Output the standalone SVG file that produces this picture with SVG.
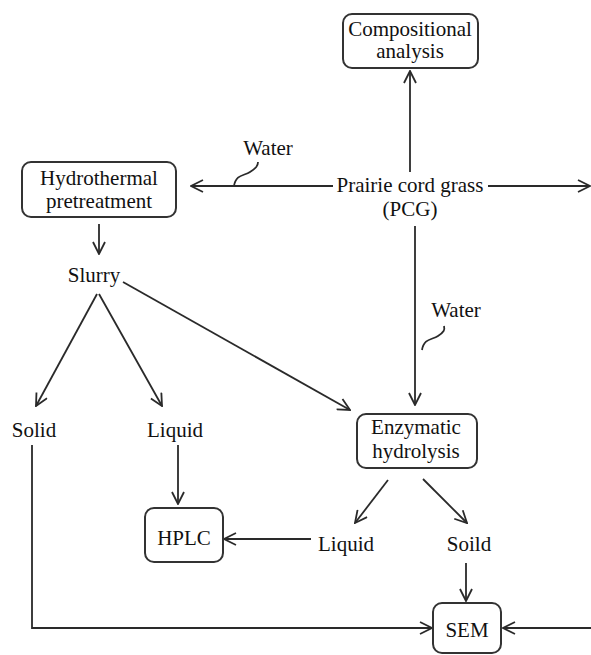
<svg xmlns="http://www.w3.org/2000/svg" width="591" height="655" viewBox="0 0 591 655">
<style>
text{font-family:"Liberation Serif","Times New Roman",serif;font-size:21px;fill:#111;text-anchor:middle}
.box{fill:#fff;stroke:#333;stroke-width:2}
.ln{fill:none;stroke:#2a2a2a;stroke-width:1.8}
</style>
<defs>
<marker id="ah" viewBox="0 0 14 14" refX="13" refY="7" markerWidth="14" markerHeight="14" markerUnits="userSpaceOnUse" orient="auto">
<path d="M1,1 L13,7 L1,13" fill="none" stroke="#2a2a2a" stroke-width="1.8"/>
</marker>
</defs>
<rect width="591" height="655" fill="#fff"/>
<g id="connectors">
<line class="ln" x1="410" y1="172" x2="410" y2="71" marker-end="url(#ah)"/>
<line class="ln" x1="333" y1="186" x2="191" y2="186" marker-end="url(#ah)"/>
<path class="ln" d="M234,186 C236,174 244,176 250,172 C256,168 258,166 258,162"/>
<line class="ln" x1="488" y1="186" x2="590" y2="186" marker-end="url(#ah)"/>
<line class="ln" x1="99" y1="224" x2="99" y2="254" marker-end="url(#ah)"/>
<line class="ln" x1="415" y1="226" x2="415" y2="405" marker-end="url(#ah)"/>
<path class="ln" d="M422,350 C424,338 432,340 438,336 C444,332 445,330 444,326"/>
<line class="ln" x1="97" y1="294" x2="36" y2="406" marker-end="url(#ah)"/>
<line class="ln" x1="99" y1="294" x2="162" y2="406" marker-end="url(#ah)"/>
<line class="ln" x1="123" y1="282" x2="350" y2="410" marker-end="url(#ah)"/>
<line class="ln" x1="178" y1="445" x2="178" y2="504" marker-end="url(#ah)"/>
<polyline class="ln" points="32,445 32,628 432,628" marker-end="url(#ah)"/>
<line class="ln" x1="388" y1="480" x2="355" y2="523" marker-end="url(#ah)"/>
<line class="ln" x1="423" y1="479" x2="467" y2="523" marker-end="url(#ah)"/>
<line class="ln" x1="311" y1="539" x2="224" y2="539" marker-end="url(#ah)"/>
<line class="ln" x1="466" y1="563" x2="466" y2="601" marker-end="url(#ah)"/>
<line class="ln" x1="591" y1="628" x2="503" y2="628" marker-end="url(#ah)"/>
</g>
<g id="compositional">
<rect class="box" x="343" y="14" width="135" height="54" rx="9"/>
<text x="410" y="36">Compositional</text>
<text x="410" y="58">analysis</text>
</g>
<g id="hydrothermal">
<rect class="box" x="22" y="162" width="154" height="55" rx="9"/>
<text x="99" y="185">Hydrothermal</text>
<text x="99" y="208">pretreatment</text>
</g>
<g id="water1"><text x="268" y="155">Water</text></g>
<g id="pcg">
<text x="410" y="192">Prairie cord grass</text>
<text x="410" y="216">(PCG)</text>
</g>
<g id="slurry"><text x="94" y="282">Slurry</text></g>
<g id="water2"><text x="456" y="317">Water</text></g>
<g id="solid"><text x="34" y="437">Solid</text></g>
<g id="liquid1"><text x="175" y="437">Liquid</text></g>
<g id="enzymatic">
<rect class="box" x="357" y="414" width="120" height="54" rx="9"/>
<text x="416" y="434">Enzymatic</text>
<text x="416" y="458">hydrolysis</text>
</g>
<g id="hplc">
<rect class="box" x="145" y="508" width="78" height="54" rx="9"/>
<text x="184" y="545">HPLC</text>
</g>
<g id="liquid2"><text x="346" y="551">Liquid</text></g>
<g id="soild"><text x="469" y="551">Soild</text></g>
<g id="sem">
<rect class="box" x="433" y="603" width="68" height="50" rx="9"/>
<text x="467" y="637">SEM</text>
</g>
</svg>
